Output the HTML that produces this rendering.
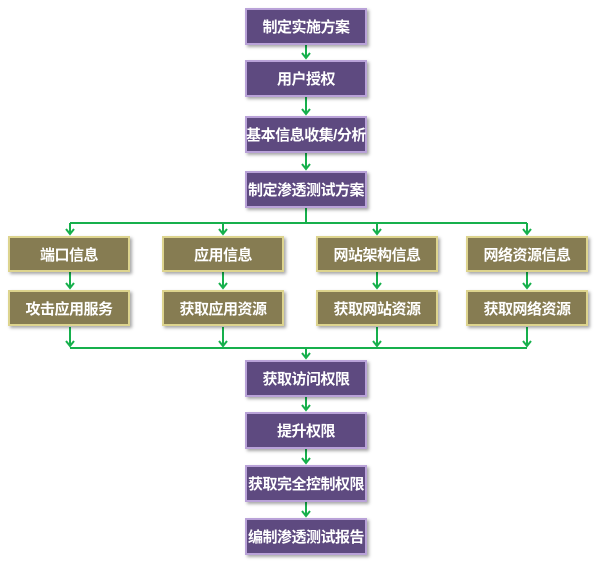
<!DOCTYPE html><html><head><style>
body{margin:0;width:600px;height:563px;background:#fff;position:relative;font-family:"Liberation Sans","Noto Sans CJK SC",sans-serif;overflow:hidden}
.b{position:absolute;box-sizing:border-box;color:#fff;font-weight:bold;font-size:15px;display:flex;align-items:center;justify-content:center;box-shadow:2px 2px 3px rgba(0,0,0,.35);white-space:nowrap;letter-spacing:-0.5px}
.p{background:#5e4a80;border:2px solid #b9a2d8;left:245px;width:122px;height:37px}
.o{background:#867c52;border:2px solid #ddd48e;width:122px;height:36px}
</style></head><body>
<svg width="600" height="563" style="position:absolute;left:0;top:0">
<defs><marker id="a" markerWidth="10" markerHeight="10" refX="7" refY="5" orient="auto" markerUnits="userSpaceOnUse"><path d="M2,1 L7,5 L2,9" fill="none" stroke="#16b04c" stroke-width="2"/></marker></defs>
<g stroke="#16b04c" stroke-width="2" fill="none">
<line x1="306" y1="45" x2="306" y2="58" marker-end="url(#a)"/>
<line x1="306" y1="97" x2="306" y2="114" marker-end="url(#a)"/>
<line x1="306" y1="153" x2="306" y2="169" marker-end="url(#a)"/>
<line x1="306" y1="208" x2="306" y2="223"/>
<line x1="70" y1="223" x2="527" y2="223"/>
<line x1="70" y1="223" x2="70" y2="234" marker-end="url(#a)"/>
<line x1="223" y1="223" x2="223" y2="234" marker-end="url(#a)"/>
<line x1="377" y1="223" x2="377" y2="234" marker-end="url(#a)"/>
<line x1="527" y1="223" x2="527" y2="234" marker-end="url(#a)"/>
<line x1="70" y1="272" x2="70" y2="288" marker-end="url(#a)"/>
<line x1="223" y1="272" x2="223" y2="288" marker-end="url(#a)"/>
<line x1="377" y1="272" x2="377" y2="288" marker-end="url(#a)"/>
<line x1="527" y1="272" x2="527" y2="288" marker-end="url(#a)"/>
<line x1="70" y1="327" x2="70" y2="346" marker-end="url(#a)"/>
<line x1="223" y1="327" x2="223" y2="346" marker-end="url(#a)"/>
<line x1="377" y1="327" x2="377" y2="346" marker-end="url(#a)"/>
<line x1="527" y1="327" x2="527" y2="346" marker-end="url(#a)"/>
<line x1="70" y1="348" x2="527" y2="348"/>
<line x1="306" y1="348" x2="306" y2="358" marker-end="url(#a)"/>
<line x1="306" y1="397" x2="306" y2="410" marker-end="url(#a)"/>
<line x1="306" y1="449" x2="306" y2="463" marker-end="url(#a)"/>
<line x1="306" y1="502" x2="306" y2="516" marker-end="url(#a)"/>
</g></svg>
<div class="b p" style="top:8px">制定实施方案</div>
<div class="b p" style="top:60px">用户授权</div>
<div class="b p" style="top:116px">基本信息收集/分析</div>
<div class="b p" style="top:171px">制定渗透测试方案</div>
<div class="b o" style="left:8px;top:236px">端口信息</div>
<div class="b o" style="left:162px;top:236px">应用信息</div>
<div class="b o" style="left:316px;top:236px">网站架构信息</div>
<div class="b o" style="left:466px;top:236px">网络资源信息</div>
<div class="b o" style="left:8px;top:290px">攻击应用服务</div>
<div class="b o" style="left:162px;top:290px">获取应用资源</div>
<div class="b o" style="left:316px;top:290px">获取网站资源</div>
<div class="b o" style="left:466px;top:290px">获取网络资源</div>
<div class="b p" style="top:360px">获取访问权限</div>
<div class="b p" style="top:412px">提升权限</div>
<div class="b p" style="top:465px">获取完全控制权限</div>
<div class="b p" style="top:518px">编制渗透测试报告</div>
</body></html>
